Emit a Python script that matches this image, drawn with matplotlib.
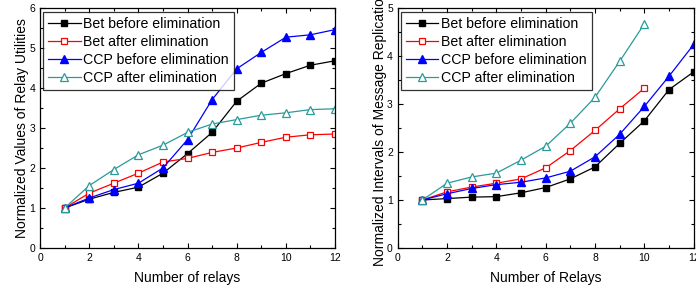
import numpy as np
import matplotlib
matplotlib.use("Agg")
import matplotlib.pyplot as plt
from matplotlib.ticker import MultipleLocator

plt.rcParams['font.family'] = ['Liberation Sans', 'DejaVu Sans']

# Figura izquierda: utilidades de relays
relays_left = [1, 2, 3, 4, 5, 6, 7, 8, 9, 10, 11, 12]
bet_before_left = [1.0, 1.22, 1.39, 1.52, 1.87, 2.36, 2.89, 3.67, 4.12, 4.36, 4.57, 4.68]
bet_after_left = [1.0, 1.37, 1.62, 1.87, 2.15, 2.24, 2.39, 2.50, 2.64, 2.77, 2.83, 2.85]
ccp_before_left = [1.0, 1.25, 1.46, 1.62, 2.0, 2.71, 3.71, 4.48, 4.89, 5.27, 5.33, 5.46]
ccp_after_left = [1.0, 1.56, 1.96, 2.33, 2.57, 2.89, 3.10, 3.21, 3.32, 3.38, 3.46, 3.48]

# Figura derecha: intervalos de replicación
relays_right = [1, 2, 3, 4, 5, 6, 7, 8, 9, 10, 11, 12]
relays_right_short = [1, 2, 3, 4, 5, 6, 7, 8, 9, 10]
bet_before_right = [1.0, 1.03, 1.06, 1.07, 1.15, 1.26, 1.44, 1.69, 2.18, 2.65, 3.30, 3.67]
bet_after_right = [1.0, 1.17, 1.27, 1.35, 1.44, 1.67, 2.03, 2.45, 2.90, 3.33]
ccp_before_right = [1.0, 1.13, 1.24, 1.32, 1.37, 1.46, 1.60, 1.90, 2.37, 2.95, 3.58, 4.24]
ccp_after_right = [1.0, 1.35, 1.48, 1.56, 1.83, 2.12, 2.60, 3.14, 3.89, 4.67]

labels = ['Bet before elimination', 'Bet after elimination',
          'CCP before elimination', 'CCP after elimination']
teal = '#2a9a9a'


def style_axes(ax, ymax):
    ax.set_xlim(0, 12)
    ax.set_ylim(0, ymax)
    ax.xaxis.set_major_locator(MultipleLocator(2))
    ax.xaxis.set_minor_locator(MultipleLocator(1))
    ax.yaxis.set_major_locator(MultipleLocator(1))
    ax.yaxis.set_minor_locator(MultipleLocator(0.5))
    ax.tick_params(which='both', direction='in', top=True, right=True, labelsize=7.5, width=0.8)
    ax.tick_params(which='major', length=3.5)
    ax.tick_params(which='minor', length=2)
    for s in ax.spines.values():
        s.set_linewidth(0.9)


def draw(ax, x_long, x_short, bb, ba, cb, ca):
    ax.plot(x_long, bb, color='black', marker='s', ms=5, lw=0.9, label=labels[0])
    ax.plot(x_short, ba, color='red', marker='s', ms=5, lw=0.9, mfc='white', mew=0.9, label=labels[1])
    ax.plot(x_long, cb, color='blue', marker='^', ms=6, lw=0.9, label=labels[2])
    ax.plot(x_short, ca, color=teal, marker='^', ms=6, lw=0.9, mfc='white', mew=0.9, label=labels[3])


fig = plt.figure(figsize=(6.96, 2.95), dpi=100)
ax1 = fig.add_axes([0.0575, 0.1593, 0.4239, 0.8136])
ax2 = fig.add_axes([0.5714, 0.1593, 0.4253, 0.8136])

draw(ax1, relays_left, relays_left, bet_before_left, bet_after_left, ccp_before_left, ccp_after_left)
style_axes(ax1, 6)
ax1.set_xlabel('Number of relays', fontsize=10, labelpad=6)
ax1.set_ylabel('Normalized Values of Relay Utilities', fontsize=10, labelpad=0)

draw(ax2, relays_right, relays_right_short, bet_before_right, bet_after_right, ccp_before_right, ccp_after_right)
style_axes(ax2, 5)
ax2.set_xlabel('Number of Relays', fontsize=10, labelpad=6)
ax2.set_ylabel('Normalized Intervals of Message Replication', fontsize=10, labelpad=0)

for ax in (ax1, ax2):
    leg = ax.legend(loc='upper left', bbox_to_anchor=(0.01, 0.985), fontsize=10.2, frameon=True,
                    fancybox=False, borderpad=0.35, labelspacing=0.3, handlelength=2.3,
                    handletextpad=0.2, borderaxespad=0.0)
    leg.get_frame().set_edgecolor('black')
    leg.get_frame().set_linewidth(0.9)

fig.savefig('out.png', dpi=100)
